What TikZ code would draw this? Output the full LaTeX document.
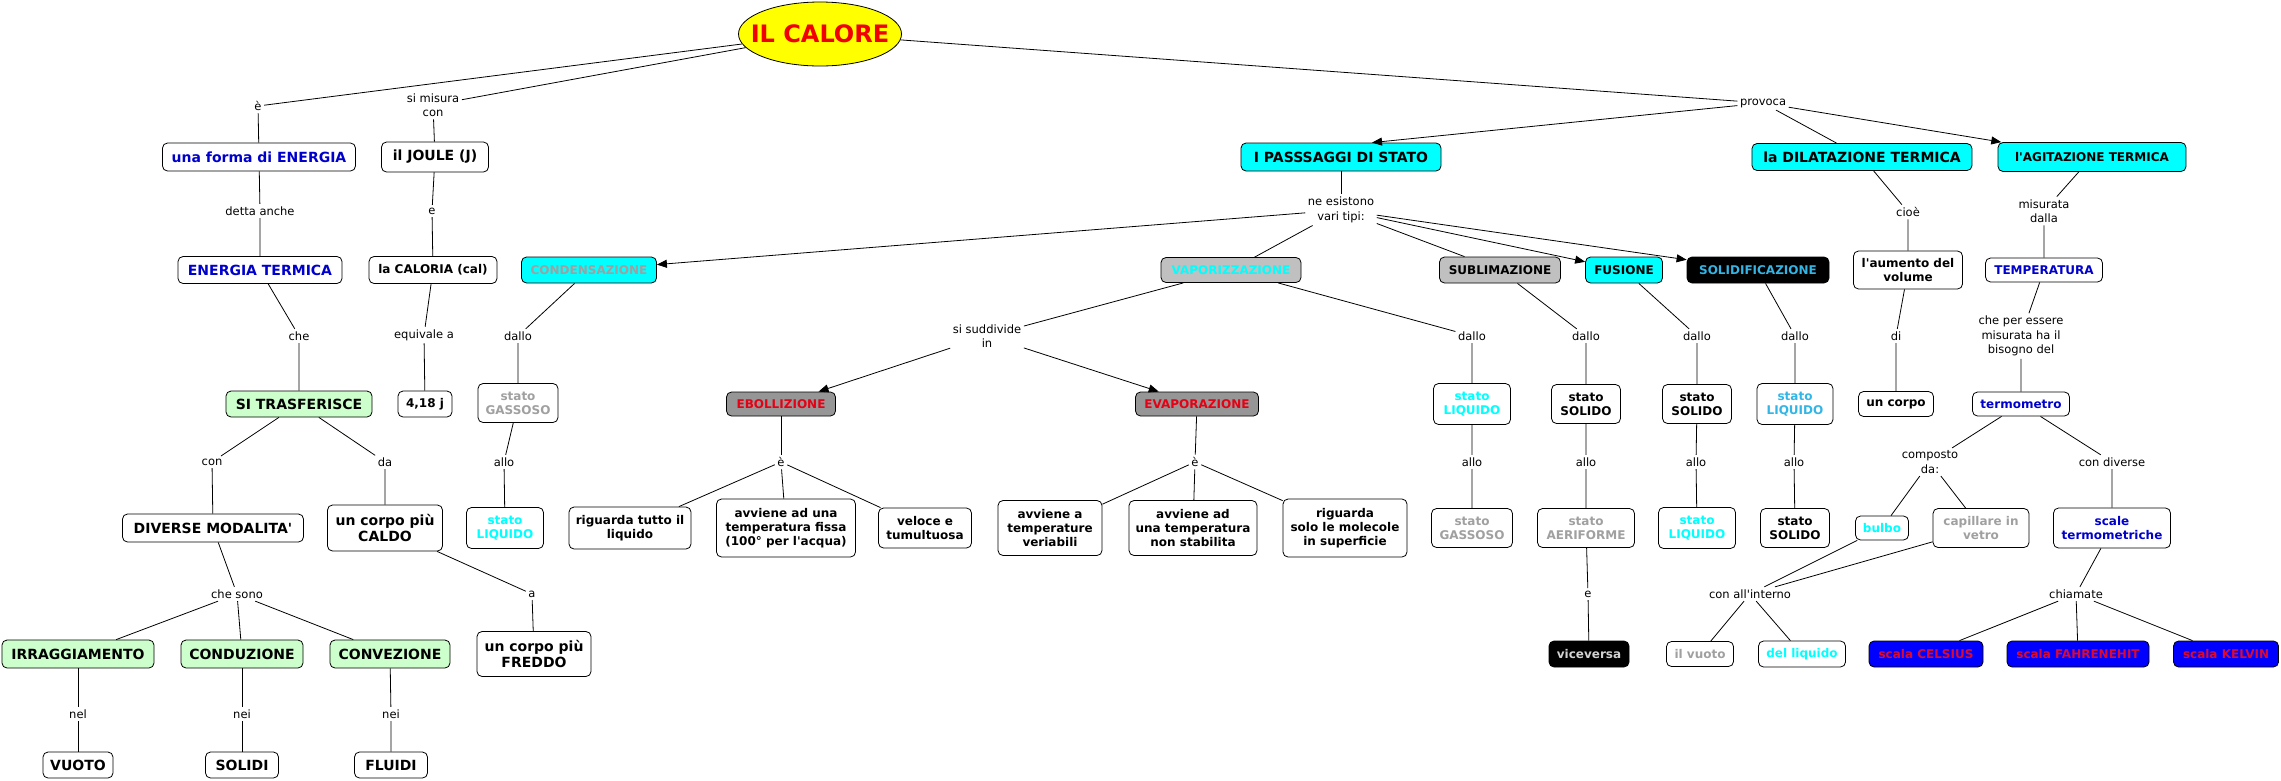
\documentclass[tikz,border=0pt]{standalone}
\usepackage{fontspec}
\setmainfont{DejaVu Sans}
\usetikzlibrary{shapes.geometric,arrows.meta}
\newcommand{\aq}{\textquotesingle}
\definecolor{cyanC}{RGB}{0,255,255}
\definecolor{blueT}{RGB}{0,0,204}
\definecolor{greenF}{RGB}{204,255,204}
\definecolor{grayT}{RGB}{160,160,160}
\definecolor{lgrayF}{RGB}{192,192,192}
\definecolor{mgrayF}{RGB}{150,150,150}
\definecolor{redT}{RGB}{230,0,20}
\definecolor{skyT}{RGB}{51,181,229}
\definecolor{vvT}{RGB}{210,210,210}
\definecolor{blueF}{RGB}{0,0,255}
\definecolor{redS}{RGB}{220,10,50}
\definecolor{yellowF}{RGB}{255,255,0}
\definecolor{redC}{RGB}{240,0,0}
\tikzset{
  box/.style={draw=black, line width=0.8pt, rounded corners=5pt, fill=white, align=center, inner sep=0pt, font=\bfseries\fontsize{12}{14}\selectfont},
  big/.style={font=\bfseries\fontsize{14}{16}\selectfont},
  sz/.style 2 args={minimum width=#1pt, minimum height=#2pt},
  lab/.style={align=center, inner sep=2.5pt, font=\fontsize{11.5}{14.5}\selectfont},
  conn/.style={line width=0.8pt},
  arr/.style={line width=0.8pt, -{Triangle[length=10pt,width=8pt]}},
  cyanbox/.style={fill=cyanC},
  greenbox/.style={fill=greenF},
  scalebox/.style={fill=blueF, text=redS}
}
\begin{document}
\begin{tikzpicture}[x=1pt,y=-1pt]
\fill[white] (0,0) rectangle (2281,780);
\useasboundingbox (0,0) rectangle (2281,780);

% ---------- concept nodes ----------
\node[ellipse, draw=black, line width=0.8pt, fill=yellowF, minimum width=163pt, minimum height=64pt, inner sep=0pt] (calore) at (820,34) {};
\node[text=redC, inner sep=0pt, font=\bfseries\fontsize{24}{26}\selectfont] (caloretxt) at (calore.center) {IL CALORE};

\node[box, big, sz={193}{28}, text=blueT] (forma) at (259,157) {una forma di ENERGIA};
\node[box, big, sz={107}{30}] (joule) at (435,157) {il JOULE (J)};
\node[box, big, sz={164}{27}, text=blueT] (enterm) at (260,270) {ENERGIA TERMICA};
\node[box, sz={128}{27}] (caloria) at (433,270) {la CALORIA (cal)};
\node[box, cyanbox, sz={135}{26}, text=grayT] (condens) at (589,270) {CONDENSAZIONE};
\node[box, big, greenbox, sz={146}{26}] (sitras) at (299,404) {SI TRASFERISCE};
\node[box, sz={54}{26}] (nqu) at (425,404) {4,18 j};
\node[box, sz={80}{39}, text=grayT] (gass1) at (518,403) {stato\\GASSOSO};
\node[box, big, sz={181}{28}] (diverse) at (213,528) {DIVERSE MODALITA\aq};
\node[box, big, sz={115}{46}] (caldo) at (385,528) {un corpo più\\CALDO};
\node[box, sz={77}{41}, text=cyanC] (liq1) at (505,528) {stato\\LIQUIDO};
\node[box, sz={122}{42}] (rigtutto) at (630,528) {riguarda tutto il\\liquido};
\node[box, sz={139}{58}] (fissa) at (786,528) {avviene ad una\\temperatura fissa\\(100° per l\aq acqua)};
\node[box, sz={93}{40}] (veloce) at (925,528) {veloce e\\tumultuosa};
\node[box, sz={104}{55}] (veriab) at (1050,528) {avviene a\\temperature\\veriabili};
\node[box, sz={128}{55}] (nonstab) at (1193,528) {avviene ad\\una temperatura\\non stabilita};
\node[box, sz={124}{58}] (superf) at (1345,528) {riguarda\\solo le molecole\\in superficie};
\node[box, big, greenbox, sz={152}{28}] (irr) at (78,654) {IRRAGGIAMENTO};
\node[box, big, greenbox, sz={122}{28}] (cond) at (242,654) {CONDUZIONE};
\node[box, big, greenbox, sz={120}{28}] (conv) at (390,654) {CONVEZIONE};
\node[box, big, sz={114}{45}] (freddo) at (534,654) {un corpo più\\FREDDO};
\node[box, big, sz={70}{26}] (vuoto) at (78,765) {VUOTO};
\node[box, big, sz={73}{26}] (solidi) at (242,765) {SOLIDI};
\node[box, big, sz={73}{26}] (fluidi) at (391,765) {FLUIDI};

\node[box, big, cyanbox, sz={200}{28}] (pass) at (1341,157) {I PASSSAGGI DI STATO};
\node[box, big, cyanbox, sz={220}{27}] (dilat) at (1862,157) {la DILATAZIONE TERMICA};
\node[box, cyanbox, sz={188}{29}] (agit) at (2092,157) {l\aq AGITAZIONE TERMICA};
\node[box, fill=lgrayF, sz={140}{25}, text=cyanC] (vapor) at (1231,270) {VAPORIZZAZIONE};
\node[box, fill=lgrayF, sz={121}{26}] (sublim) at (1500,270) {SUBLIMAZIONE};
\node[box, cyanbox, sz={77}{26}] (fusione) at (1624,270) {FUSIONE};
\node[box, fill=black, sz={142}{26}, text=skyT] (solidif) at (1758,270) {SOLIDIFICAZIONE};
\node[box, fill=mgrayF, sz={109}{24}, text=redT] (eboll) at (781,404) {EBOLLIZIONE};
\node[box, fill=mgrayF, sz={123}{24}, text=redT] (evap) at (1197,404) {EVAPORAZIONE};
\node[box, sz={77}{41}, text=cyanC] (liq2) at (1472,404) {stato\\LIQUIDO};
\node[box, sz={69}{39}] (sol3) at (1586,404) {stato\\SOLIDO};
\node[box, sz={69}{39}] (sol4) at (1697,404) {stato\\SOLIDO};
\node[box, sz={76}{41}, text=skyT] (liq5) at (1795,404) {stato\\LIQUIDO};
\node[box, sz={81}{39}, text=grayT] (gass2) at (1472,528) {stato\\GASSOSO};
\node[box, sz={97}{39}, text=grayT] (aerif) at (1586,528) {stato\\AERIFORME};
\node[box, sz={77}{41}, text=cyanC] (liq4) at (1697,528) {stato\\LIQUIDO};
\node[box, sz={69}{39}] (sol5) at (1795,528) {stato\\SOLIDO};
\node[box, fill=black, sz={80}{26}, text=vvT] (vicev) at (1589,654) {viceversa};
\node[box, sz={67}{25}, text=grayT] (vuotob) at (1700,654) {il vuoto};
\node[box, sz={87}{26}, text=cyanC] (delliq) at (1802,654) {del liquido};

\node[box, sz={109}{38}] (aumento) at (1908,270) {l\aq aumento del\\volume};
\node[box, sz={117}{24}, text=blueT] (temper) at (2044,270) {TEMPERATURA};
\node[box, sz={75}{25}] (uncorpo) at (1896,404) {un corpo};
\node[box, sz={97}{24}, text=blueT] (termom) at (2021,404) {termometro};
\node[box, sz={53}{24}, text=cyanC] (bulbo) at (1882,528) {bulbo};
\node[box, sz={96}{39}, text=grayT] (capill) at (1981,528) {capillare in\\vetro};
\node[box, sz={117}{40}, text=blueT] (scale) at (2112,528) {scale\\termometriche};
\node[box, scalebox, sz={114}{26}] (celsius) at (1926,654) {scala CELSIUS};
\node[box, scalebox, sz={142}{26}] (fahr) at (2078,654) {scala FAHRENEHIT};
\node[box, scalebox, sz={105}{26}] (kelvin) at (2226,654) {scala KELVIN};

% ---------- linking phrases ----------
\node[lab] (lE) at (258,106) {è};
\node[lab] (lMis) at (433,105) {si misura\\con};
\node[lab] (lProv) at (1763,103) {provoca};
\node[lab] (lDetta) at (260,211) {detta anche};
\node[lab] (lE2) at (432,211) {e};
\node[lab] (lChe) at (299,336) {che};
\node[lab] (lEquiv) at (424,335) {equivale a};
\node[lab] (lDallo1) at (518,336) {dallo};
\node[lab] (lCon) at (212,462) {con};
\node[lab] (lDa) at (385,462) {da};
\node[lab] (lAllo1) at (504,462) {allo};
\node[lab] (lA) at (532,594) {a};
\node[lab] (lCheSono) at (237,594) {che sono};
\node[lab] (lNel) at (78,714) {nel};
\node[lab] (lNei1) at (242,714) {nei};
\node[lab] (lNei2) at (391,714) {nei};
\node[lab] (lNeEs) at (1341,210) {ne esistono\\vari tipi:};
\node[lab] (lSudd) at (987,336) {si suddivide\\in};
\node[lab] (lEb) at (781,462) {è};
\node[lab] (lEv) at (1195,462) {è};
\node[lab] (lDallo2) at (1472,336) {dallo};
\node[lab] (lDallo3) at (1586,336) {dallo};
\node[lab] (lDallo4) at (1697,336) {dallo};
\node[lab] (lDallo5) at (1795,336) {dallo};
\node[lab] (lAllo2) at (1472,462) {allo};
\node[lab] (lAllo3) at (1586,462) {allo};
\node[lab] (lAllo4) at (1696,462) {allo};
\node[lab] (lAllo5) at (1794,462) {allo};
\node[lab] (lE3) at (1588,594) {e};
\node[lab] (lConInt) at (1750,594) {con all\aq interno};
\node[lab] (lCioe) at (1908,212) {cioè};
\node[lab] (lMisur) at (2044,211) {misurata\\dalla};
\node[lab] (lDi) at (1896,336) {di};
\node[lab] (lChePer) at (2021,336) {che per essere\\misurata ha il\\bisogno del};
\node[lab] (lComp) at (1930,462) {composto\\da:};
\node[lab] (lConDiv) at (2112,462) {con diverse};
\node[lab] (lChiam) at (2076,594) {chiamate};

% ---------- connectors ----------
\draw[conn] (calore) -- (lE) -- (forma);
\draw[conn] (calore) -- (lMis) -- (joule);
\draw[conn] (calore) -- (lProv);
\draw[arr] (lProv) -- ([xshift=31pt]pass.north);
\draw[conn] (lProv) -- (dilat);
\draw[arr] (lProv) -- (agit);
\draw[conn] (forma) -- (lDetta) -- (enterm);
\draw[conn] (enterm) -- (lChe) -- (sitras);
\draw[conn] (joule) -- (lE2) -- (caloria);
\draw[conn] (caloria) -- (lEquiv) -- (nqu);
\draw[conn] (sitras) -- (lCon) -- (diverse);
\draw[conn] (sitras) -- (lDa) -- (caldo);
\draw[conn] (caldo) -- (lA) -- (freddo);
\draw[conn] (diverse) -- (lCheSono);
\draw[conn] (lCheSono) -- (irr);
\draw[conn] (lCheSono) -- (cond);
\draw[conn] (lCheSono) -- (conv);
\draw[conn] (irr) -- (lNel) -- (vuoto);
\draw[conn] (cond) -- (lNei1) -- (solidi);
\draw[conn] (conv) -- (lNei2) -- (fluidi);

\draw[conn] (pass) -- (lNeEs);
\draw[arr] (lNeEs) -- (condens);
\draw[conn] (lNeEs) -- (vapor);
\draw[conn] (lNeEs) -- (sublim);
\draw[arr] (lNeEs) -- (fusione);
\draw[arr] (lNeEs) -- (solidif);
\draw[conn] (condens) -- (lDallo1) -- (gass1) -- (lAllo1) -- (liq1);
\draw[conn] (vapor) -- (lSudd);
\draw[arr] (lSudd) -- (eboll);
\draw[arr] (lSudd) -- (evap);
\draw[conn] (vapor) -- (lDallo2) -- (liq2) -- (lAllo2) -- (gass2);
\draw[conn] (sublim) -- (lDallo3) -- (sol3) -- (lAllo3) -- (aerif) -- (lE3) -- (vicev);
\draw[conn] (fusione) -- (lDallo4) -- (sol4) -- (lAllo4) -- (liq4);
\draw[conn] (solidif) -- (lDallo5) -- (liq5) -- (lAllo5) -- (sol5);
\draw[conn] (eboll) -- (lEb);
\draw[conn] (lEb) -- (rigtutto);
\draw[conn] (lEb) -- (fissa);
\draw[conn] (lEb) -- (veloce);
\draw[conn] (evap) -- (lEv);
\draw[conn] (lEv) -- (veriab);
\draw[conn] (lEv) -- (nonstab);
\draw[conn] (lEv) -- (superf);

\draw[conn] (dilat) -- (lCioe) -- (aumento) -- (lDi) -- (uncorpo);
\draw[conn] (agit) -- (lMisur) -- (temper) -- (lChePer) -- (termom);
\draw[conn] (termom) -- (lComp);
\draw[conn] (lComp) -- (bulbo);
\draw[conn] (lComp) -- (capill);
\draw[conn] (bulbo) -- (lConInt);
\draw[conn] (capill) -- (lConInt);
\draw[conn] (lConInt) -- (vuotob);
\draw[conn] (lConInt) -- (delliq);
\draw[conn] (termom) -- (lConDiv) -- (scale) -- (lChiam);
\draw[conn] (lChiam) -- (celsius);
\draw[conn] (lChiam) -- (fahr);
\draw[conn] (lChiam) -- (kelvin);
\end{tikzpicture}
\end{document}
